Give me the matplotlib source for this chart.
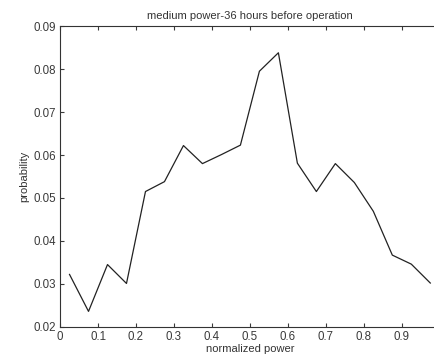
import matplotlib
matplotlib.use("Agg")
import matplotlib.pyplot as plt

plt.rcParams['font.family'] = ['Liberation Sans', 'DejaVu Sans']

power = [0.025, 0.075, 0.125, 0.175, 0.225, 0.275, 0.325, 0.375, 0.425, 0.475,
         0.525, 0.575, 0.625, 0.675, 0.725, 0.775, 0.825, 0.875, 0.925, 0.975]
prob = [0.0322, 0.0236, 0.0345, 0.0301, 0.0515, 0.0538, 0.0622, 0.0580, 0.0601, 0.0623,
        0.0795, 0.0838, 0.0581, 0.0515, 0.0580, 0.0536, 0.0469, 0.0367, 0.0346, 0.0302]
xticks = [0, 0.1, 0.2, 0.3, 0.4, 0.5, 0.6, 0.7, 0.8, 0.9]
yticks = [0.02, 0.03, 0.04, 0.05, 0.06, 0.07, 0.08, 0.09]

fig = plt.figure(figsize=(4.35, 3.58), dpi=100)
ax = fig.add_axes([0.138, 0.087, 0.873, 0.840])
ax.plot(power, prob, color="#222222", linewidth=0.9)
ax.set_xlim(0, 1)
ax.set_ylim(0.02, 0.09)
ax.set_xticks(xticks)
ax.set_xticklabels([("%g" % t) for t in xticks])
ax.set_yticks(yticks)
ax.set_yticklabels([("%.2f" % t) for t in yticks])
ax.tick_params(direction="in", top=True, right=False, length=3, labelsize=8.3,
               colors="#3a3a3a", pad=3)
for s in ax.spines.values():
    s.set_color("#333333")
    s.set_linewidth(0.8)
ax.set_xlabel("normalized power", fontsize=8, color="#333333", labelpad=1)
ax.set_ylabel("probability", fontsize=8, color="#333333", labelpad=3)
ax.set_title("medium power-36 hours before operation", fontsize=8, color="#333333", pad=5)

fig.savefig("out.png", dpi=100)
